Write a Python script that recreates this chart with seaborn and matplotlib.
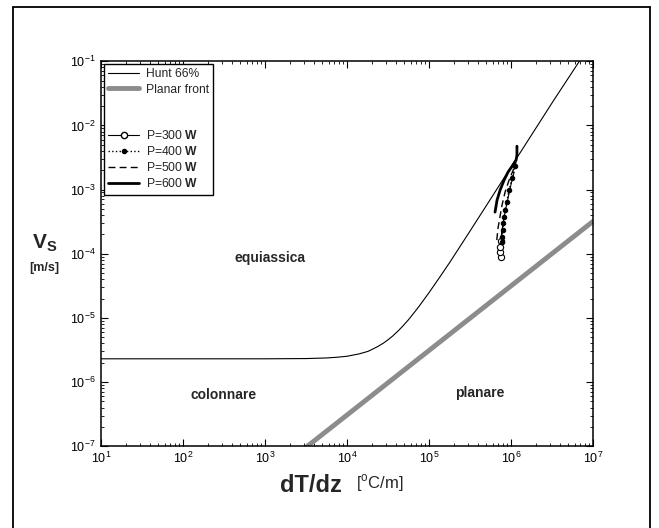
import matplotlib
matplotlib.use('Agg')
import matplotlib.pyplot as plt
from matplotlib.lines import Line2D
import seaborn as sns

# Hunt 66% curve
hunt_G = [1e1, 1e2, 1e3, 3.2e3, 5.6e3, 7.5e3, 1e4, 1.4e4, 1.8e4, 2.0e4, 2.4e4, 2.8e4, 3.2e4,
          3.6e4, 4.2e4, 4.8e4, 5.6e4, 6.5e4, 7.5e4, 1e5, 1.35e5, 1.8e5, 3.2e5, 5.6e5, 1e6,
          3.2e6, 6.8e6]
hunt_V = [2.3e-6, 2.3e-6, 2.3e-6, 2.32e-6, 2.37e-6, 2.43e-6, 2.52e-6, 2.74e-6, 3.0e-6, 3.2e-6,
          3.6e-6, 4.06e-6, 4.6e-6, 5.2e-6, 6.25e-6, 7.46e-6, 9.3e-6, 1.18e-5, 1.49e-5, 2.47e-5,
          4.3e-5, 7.4e-5, 2.31e-4, 7.05e-4, 2.25e-3, 2.3e-2, 1.0e-1]

# planar front
planar_G = [3.3e3, 1e7]
planar_V = [1e-7, 3.2e-4]

# misure
p300_G = [7.45e5, 7.35e5, 7.35e5, 7.55e5, 7.66e5, 7.98e5, 8.45e5, 9.19e5, 1.0e6, 1.09e6]
p300_V = [8.85e-5, 1.06e-4, 1.27e-4, 1.57e-4, 2.09e-4, 2.89e-4, 4.45e-4, 7.35e-4, 1.21e-3, 1.87e-3]
p400_G = [7.70e5, 7.76e5, 7.92e5, 8.05e5, 8.22e5, 8.45e5, 8.87e5, 9.46e5, 1.03e6, 1.12e6]
p400_V = [1.53e-4, 1.83e-4, 2.33e-4, 2.96e-4, 3.76e-4, 4.78e-4, 6.43e-4, 9.79e-4, 1.51e-3, 2.31e-3]
p500_G = [6.70e5, 6.94e5, 7.35e5, 7.76e5, 8.45e5, 9.46e5, 1.06e6, 1.15e6]
p500_V = [1.63e-4, 2.51e-4, 3.85e-4, 5.71e-4, 9.12e-4, 1.40e-3, 2.00e-3, 2.67e-3]
p600_G = [6.38e5, 6.75e5, 7.35e5, 8.22e5, 9.19e5, 1.03e6, 1.15e6, 1.18e6, 1.18e6]
p600_V = [4.45e-4, 6.84e-4, 9.79e-4, 1.40e-3, 1.87e-3, 2.31e-3, 2.87e-3, 3.43e-3, 4.74e-3]

sns.set_style('ticks')
plt.rcParams['font.family'] = ['Liberation Sans', 'DejaVu Sans']
plt.rcParams['mathtext.fontset'] = 'custom'
plt.rcParams['mathtext.rm'] = 'Liberation Sans'
plt.rcParams['mathtext.bf'] = 'Liberation Sans:bold'

fig = plt.figure(figsize=(6.59, 5.28), dpi=100)
ax = fig.add_axes([0.153, 0.155, 0.747, 0.729])

kw = dict(sort=False, estimator=None, ax=ax, legend=False)
sns.lineplot(x=hunt_G, y=hunt_V, color='black', linewidth=0.8, **kw)
sns.lineplot(x=planar_G, y=planar_V, color='0.55', linewidth=3.5, **kw)
sns.lineplot(x=p500_G, y=p500_V, color='black', linewidth=1.0, linestyle=(0, (5, 3)), **kw)
sns.lineplot(x=p600_G, y=p600_V, color='black', linewidth=2.0, **kw)
sns.lineplot(x=p300_G, y=p300_V, color='black', linewidth=0.8, marker='o', markersize=4.5,
             markerfacecolor='white', markeredgecolor='black', markeredgewidth=0.8,
             markevery=[0, 1, 2, 3], **kw)
sns.lineplot(x=p400_G, y=p400_V, color='black', linewidth=1.0, linestyle=':', marker='o',
             markersize=3.2, markerfacecolor='black', markeredgecolor='black', **kw)

ax.set_xscale('log')
ax.set_yscale('log')
ax.set_xlim(1e1, 1e7)
ax.set_ylim(1e-7, 1e-1)
ax.tick_params(which='both', direction='in', top=True, right=True, labelsize=9, colors='black')
ax.tick_params(which='major', length=5, width=0.8)
ax.tick_params(which='minor', length=2.5, width=0.6)
for s in ax.spines.values():
    s.set_linewidth(1.1)
    s.set_color('black')

ax.text(1.15e3, 8.5e-5, 'equiassica', fontsize=10, fontweight='bold', ha='center', va='center')
ax.text(3.1e2, 6.3e-7, 'colonnare', fontsize=10, fontweight='bold', ha='center', va='center')
ax.text(4.2e5, 6.8e-7, 'planare', fontsize=10, fontweight='bold', ha='center', va='center')

handles = [
    Line2D([], [], color='black', linewidth=0.8),
    Line2D([], [], color='0.55', linewidth=3.5),
    Line2D([], [], color='none'),
    Line2D([], [], color='none'),
    Line2D([], [], color='black', linewidth=0.8, marker='o', markersize=4.5,
           markerfacecolor='white', markevery=[0, -1]),
    Line2D([], [], color='black', linewidth=1.0, linestyle=':', marker='o', markersize=3,
           markevery=1),
    Line2D([], [], color='black', linewidth=1.0, linestyle=(0, (5, 3))),
    Line2D([], [], color='black', linewidth=2.0),
]
labels = ['Hunt 66%', 'Planar front', ' ', ' ',
          r'P=300 $\mathbf{W}$', r'P=400 $\mathbf{W}$', r'P=500 $\mathbf{W}$', r'P=600 $\mathbf{W}$']
leg = ax.legend(handles, labels, loc='upper left', fontsize=8.7, frameon=True, fancybox=False,
                framealpha=1, edgecolor='black', borderaxespad=0.25, handlelength=2.6,
                labelspacing=0.26, borderpad=0.35, handletextpad=0.5)
leg.get_frame().set_linewidth(1.0)

# etichette assi
fig.text(0.068, 0.54, r'V$_\mathbf{S}$', fontsize=15, fontweight='bold', ha='center', va='center')
fig.text(0.068, 0.492, '[m/s]', fontsize=9, fontweight='bold', ha='center', va='center')
fig.text(0.472, 0.081, 'dT/dz', fontsize=17, fontweight='bold', ha='center', va='center')
fig.text(0.577, 0.085, r'[$^\mathrm{o}$C/m]', fontsize=12, ha='center', va='center')

# cornice esterna
fx0, fx1, fy1 = 13 / 659, 650 / 659, 1 - 7 / 528
for xs, ys in [([fx0, fx0], [0, fy1]), ([fx0, fx1], [fy1, fy1]), ([fx1, fx1], [fy1, 0])]:
    fig.add_artist(Line2D(xs, ys, color='black', linewidth=1.3, transform=fig.transFigure))

plt.savefig('out.png', dpi=100)
